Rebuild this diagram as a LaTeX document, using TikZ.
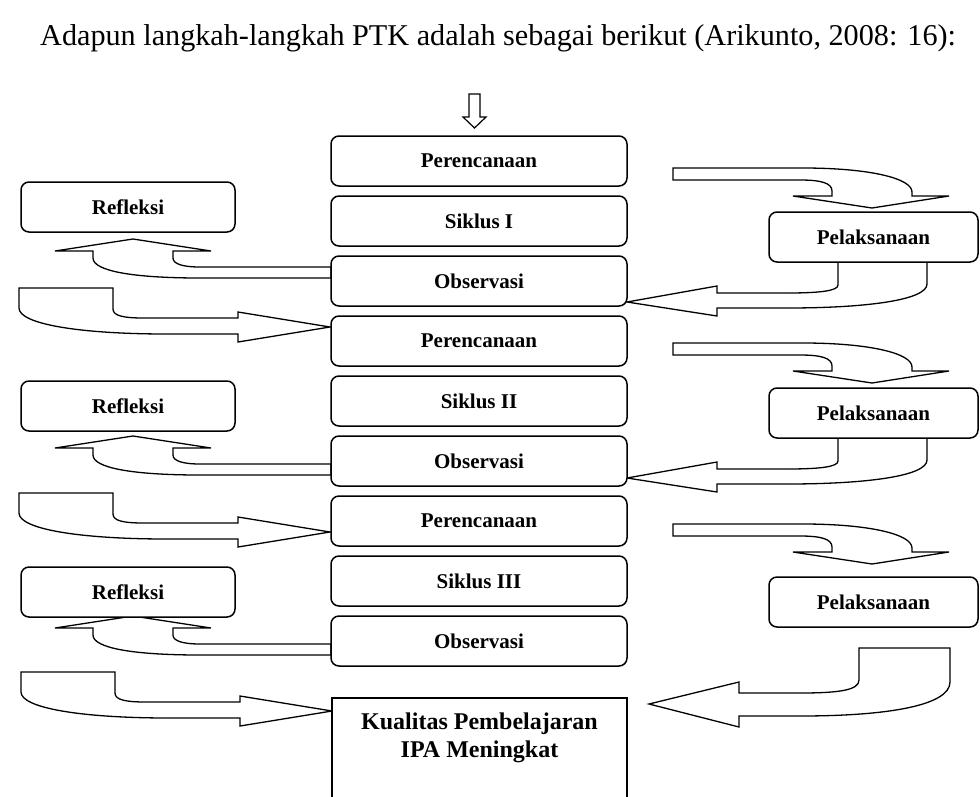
\documentclass[tikz,border=0pt]{standalone}
\usepackage{fontspec}
\setmainfont{Liberation Serif}
\begin{document}
\begin{tikzpicture}[x=1pt,y=-1pt,
  stepbox/.style={draw, fill=white, line width=1.5pt, rounded corners=8pt, minimum width=296pt, minimum height=50pt, inner sep=0pt, font=\fontsize{21}{25}\selectfont\bfseries},
  leftbox/.style={stepbox, minimum width=214pt},
  rightbox/.style={stepbox, minimum width=209pt},
  blockarrow/.style={draw, line width=1.3pt, line join=miter, fill=white},
  reflarrow/.pic={
    \draw[blockarrow] (198,28) -- (67,28) .. controls (50,28) and (40,25) .. (40,19) -- (40,12) -- (78,12) -- (0,0) -- (-78,12) -- (-40,12) -- (-40,19) .. controls (-40,32) and (0,39) .. (67,39) -- (198,39) -- cycle;
  },
  planarrow/.pic={
    \draw[blockarrow] (0,0) -- (94,0) -- (94,21) .. controls (94,28) and (105,30) .. (125,30) -- (219,30) -- (219,24) -- (311,39) -- (219,54) -- (219,46) -- (148,46) .. controls (60,46) and (0,36) .. (0,20) -- cycle;
  },
  execarrow/.pic={
    \draw[blockarrow] (0,0) -- (130,0) .. controls (195,0) and (239,10) .. (239,24) -- (239,28) -- (276,28) -- (199,40) -- (120,28) -- (159,28) -- (159,23) .. controls (159,15) and (148,12) .. (127,12) -- (0,12) -- cycle;
  },
  obsarrow/.pic={
    \draw[blockarrow] (0,0) -- (0,22) .. controls (0,38) and (-60,46) .. (-140,46) -- (-210,46) -- (-210,54) -- (-300,40) -- (-210,24) -- (-210,31) -- (-140,31) .. controls (-108,31) and (-89,29) .. (-89,23) -- (-89,0) -- cycle;
  },
]
\useasboundingbox (0,0) rectangle (980,796);
\clip (0,0) rectangle (980,796);

\node[anchor=base west, inner sep=0pt, font=\fontsize{30.2}{36}\selectfont] (title) at (40,45)
  {Adapun langkah-langkah PTK adalah sebagai berikut (Arikunto, 2008: 16):};

% small entry arrow
\draw[blockarrow, line width=1.2pt] (469,94) -- (480,94) -- (480,117) -- (486,117) -- (474.5,128) -- (463,117) -- (469,117) -- cycle;

% block arrows
\pic at (133,239) {reflarrow};
\pic at (133,436) {reflarrow};
\pic at (133,616) {reflarrow};
\pic at (19,288) {planarrow};
\pic at (19,493) {planarrow};
\pic at (21,672) {planarrow};
\pic at (673,168) {execarrow};
\pic at (673,343) {execarrow};
\pic at (673,524) {execarrow};
\pic at (927,262) {obsarrow};
\pic at (927,438) {obsarrow};
\draw[blockarrow] (950,648) -- (950,682) .. controls (950,705) and (890,716) .. (800,716) -- (739,716) -- (739,727) -- (649,704) -- (739,682) -- (739,693) -- (800,693) .. controls (840,693) and (859,690) .. (859,680) -- (859,648) -- cycle;

% central column
\node[stepbox] (per1) at (479,161) {Perencanaan};
\node[stepbox] (sik1) at (479,221) {Siklus I};
\node[stepbox] (obs1) at (479,281) {Observasi};
\node[stepbox] (per2) at (479,341) {Perencanaan};
\node[stepbox] (sik2) at (479,401) {Siklus II};
\node[stepbox] (obs2) at (479,461) {Observasi};
\node[stepbox] (per3) at (479,521) {Perencanaan};
\node[stepbox] (sik3) at (479,581) {Siklus III};
\node[stepbox] (obs3) at (479,641) {Observasi};

% side boxes
\node[leftbox] (ref1) at (128,207) {Refleksi};
\node[leftbox] (ref2) at (128,406) {Refleksi};
\node[leftbox] (ref3) at (128,592) {Refleksi};
\node[rightbox] (pel1) at (873.5,237) {Pelaksanaan};
\node[rightbox] (pel2) at (873.5,413) {Pelaksanaan};
\node[rightbox] (pel3) at (873.5,602) {Pelaksanaan};

% result box
\node[draw, fill=white, line width=1.5pt, anchor=north, minimum width=295pt, minimum height=130pt, inner sep=0pt] (kual) at (479.5,697) {};
\node[align=center, inner sep=0pt, font=\fontsize{24}{28}\selectfont\bfseries] (kualtext) at (479.5,737.5) {Kualitas Pembelajaran\\IPA Meningkat};
\end{tikzpicture}
\end{document}
